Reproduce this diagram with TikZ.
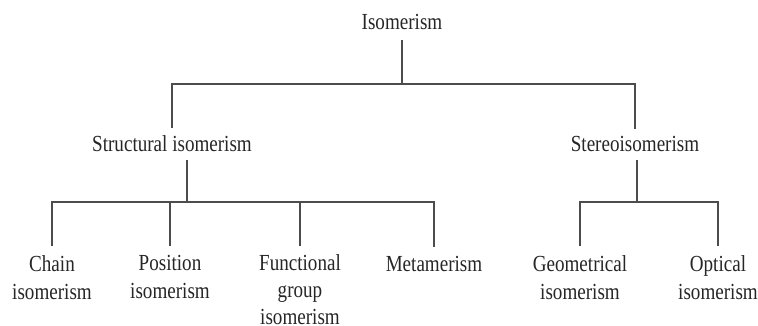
\documentclass[tikz,border=0pt]{standalone}
\usepackage{fontspec}
\setmainfont{Liberation Serif}
\usepackage{graphicx}
\newcommand\nrw[1]{\scalebox{0.83}[1]{#1}}
\tikzset{
  lbl/.style={inner sep=0pt, font=\fontsize{23}{28}\selectfont, align=center, text=black!85},
  conn/.style={line width=1.6pt, draw=black!70},
}
\begin{document}
\begin{tikzpicture}[x=1pt,y=1pt]
\useasboundingbox (0,0) rectangle (758,-326);
% labels
\node[lbl,anchor=base] (iso) at (402,-30) {\nrw{Isomerism}};
\node[lbl,anchor=base] (struct) at (172,-152) {\nrw{Structural isomerism}};
\node[lbl,anchor=base] (stereo) at (635,-152) {\nrw{Stereoisomerism}};
\node[lbl,anchor=north] (chain) at (52,-255) {\nrw{Chain}\\\nrw{isomerism}};
\node[lbl,anchor=north] (position) at (170,-255) {\nrw{Position}\\\nrw{isomerism}};
\node[lbl,anchor=north,font=\fontsize{23}{27.4}\selectfont] (functional) at (300,-254) {\nrw{Functional}\\\nrw{group}\\\nrw{isomerism}};
\node[lbl,anchor=base] (meta) at (434,-271) {\nrw{Metamerism}};
\node[lbl,anchor=north] (geo) at (580,-255) {\nrw{Geometrical}\\\nrw{isomerism}};
\node[lbl,anchor=north] (opt) at (718,-255) {\nrw{Optical}\\\nrw{isomerism}};
% junction coordinates
\coordinate (t0) at (402,-40);
\coordinate (b0) at (402,-84);
\coordinate (t1) at (187,-160);
\coordinate (b1) at (187,-202);
\coordinate (t2) at (637,-160);
\coordinate (b2) at (637,-202);
% connectors
\draw[conn] (t0) -- (b0);
\draw[conn] ([yshift=8pt]struct.north) -- (struct.north |- b0) -- (stereo.north |- b0) -- ([yshift=8pt]stereo.north);
\draw[conn] (t1) -- (b1);
\draw[conn] ([yshift=9pt]chain.north) -- (chain.north |- b1) -- (meta.north |- b1) -- ([yshift=9pt]meta.north);
\draw[conn] (position.north |- b1) -- ([yshift=9pt]position.north);
\draw[conn] (functional.north |- b1) -- ([yshift=8pt]functional.north);
\draw[conn] (t2) -- (b2);
\draw[conn] ([yshift=9pt]geo.north) -- (geo.north |- b2) -- (opt.north |- b2) -- ([yshift=9pt]opt.north);
\end{tikzpicture}
\end{document}
